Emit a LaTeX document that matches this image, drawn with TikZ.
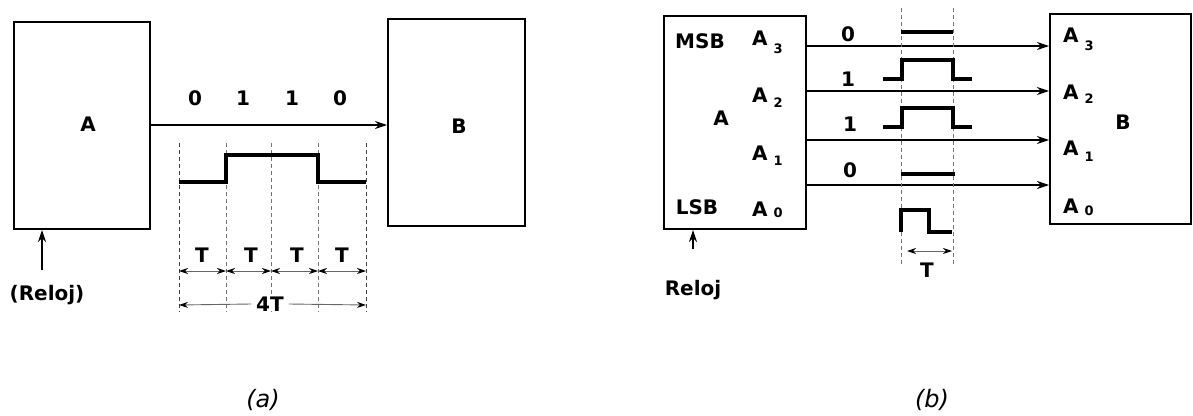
\documentclass[tikz,border=0pt]{standalone}
\usepackage{fontspec}
\setmainfont{DejaVu Sans}
\usetikzlibrary{arrows.meta}
\newcommand\Asubx[2]{A\hspace{6pt}\raisebox{-#2pt}{\fontsize{13}{13}\selectfont #1}}
\begin{document}
\begin{tikzpicture}[x=1pt,y=-1pt,
  blk/.style={draw, line width=2pt, inner sep=0},
  lbl/.style={font=\fontsize{20}{20}\selectfont\bfseries, inner sep=0},
  captxt/.style={font=\fontsize{24}{24}\selectfont\itshape, inner sep=0},
  wave/.style={line width=3.2pt},
  sig/.style={line width=1.5pt, -{Stealth[length=12pt,width=8pt]}},
  dashv/.style={dash pattern=on 4pt off 3pt, line width=0.7pt, black!55},
  dashvo/.style={dash pattern=on 4pt off 3pt, line width=1pt, black!75},
  dim/.style={line width=0.9pt, black!60, {Stealth[length=9pt,width=6pt,black]}-{Stealth[length=9pt,width=6pt,black]}}]
\useasboundingbox (0,0) rectangle (1193,415);

% ---------------- panel (a) ----------------
\node[blk, minimum width=136pt, minimum height=207pt] (A) at (82,125.5) {};
\node[blk, minimum width=137pt, minimum height=207pt] (B) at (456.5,122.5) {};
\node[lbl] (lA) at (88,124) {A};
\node[lbl] (lB) at (459,126) {B};
\coordinate (aout) at (150,125);
\draw[sig] (aout) -- (aout -| B.west);

\foreach \b/\x in {0/195,1/243,1/292,0/340}
  \node[lbl] at (\x,98) {\b};

% dashed verticals
\foreach \x/\s in {179/dashvo,226/dashv,271/dashv,318/dashv,366/dashvo}
  \draw[\s] (\x,143) -- (\x,312);

% waveform
\draw[wave] (179,182) -- (226,182) -- (226,155) -- (318,155) -- (318,182) -- (366,182);

% T intervals
\foreach \xa/\xb/\xc in {179/226/202,226/271/251,271/318/297,318/366/342}{
  \draw[dim] (\xa,271) -- (\xb,271);
  \node[lbl] at (\xc,255.5) {T};
}
\node[lbl, fill=white, inner xsep=5pt] (fourT) at (270,304) {4T};
\draw[dim, {Stealth[length=9pt,width=6pt,black]}-] (179,305) -- (fourT.west);
\draw[dim, -{Stealth[length=9pt,width=6pt,black]}] (fourT.east) -- (366,305);

% clock
\node[lbl] (relA) at (47,295) {(Reloj)};
\coordinate (ckA) at (42,270);
\draw[sig, line width=1.3pt] (ckA) -- (ckA |- A.south);

\node[captxt] (capa) at (263,400) {(a)};

% ---------------- panel (b) ----------------
\node[blk, minimum width=142pt, minimum height=213pt] (Ab) at (735,122.5) {};
\node[blk, minimum width=141pt, minimum height=210pt] (Bb) at (1120.5,119) {};
\node[lbl] (msb) at (700,41.5) {MSB};
\node[lbl] (lsb) at (697,207) {LSB};
\node[lbl] (lAb) at (721,118) {A};
\node[lbl] (lBb) at (1123,122) {B};

\node[lbl, anchor=base west] at (752,45) {\Asubx{3}{8}};
\node[lbl, anchor=base west] at (752,102) {\Asubx{2}{5}};
\node[lbl, anchor=base west] at (752,160) {\Asubx{1}{5}};
\node[lbl, anchor=base west] at (752,216) {\Asubx{0}{1}};

\node[lbl, anchor=base west] at (1063,42) {\Asubx{3}{8}};
\node[lbl, anchor=base west] at (1063,99) {\Asubx{2}{4}};
\node[lbl, anchor=base west] at (1063,155) {\Asubx{1}{6}};
\node[lbl, anchor=base west] at (1063,213) {\Asubx{0}{2}};

% parallel lines
\foreach \n/\y in {3/46,2/91,1/140,0/185}{
  \coordinate (s\n) at (806,\y);
  \draw[sig] (s\n) -- (s\n -| Bb.west);
}
\foreach \b/\x/\y in {0/848/34.5,1/848/79.5,1/850/124.5,0/850/170.5}
  \node[lbl] at (\x,\y) {\b};

% dashed verticals
\draw[dashv] (901,8) -- (901,265);
\draw[dashv] (953,8) -- (953,265);

% waveforms
\draw[wave] (901,32) -- (953,32);
\draw[wave] (883,79) -- (902,79) -- (902,60) -- (953,60) -- (953,79) -- (972,79);
\draw[wave] (883,127) -- (902,127) -- (902,108) -- (953,108) -- (953,127) -- (972,127);
\draw[wave] (901,174) -- (955,174);
\draw[wave] (901,232) -- (901,210) -- (929,210) -- (929,232) -- (952,232);

\draw[dim] (907,251) -- (952,251);
\node[lbl] (Tb) at (927,270) {T};

% clock
\node[lbl] (relB) at (693,290) {Reloj};
\coordinate (ckB) at (693,249);
\draw[sig, line width=1.3pt] (ckB) -- (ckB |- Ab.south);

\node[captxt] (capb) at (932,400) {(b)};
\end{tikzpicture}
\end{document}
